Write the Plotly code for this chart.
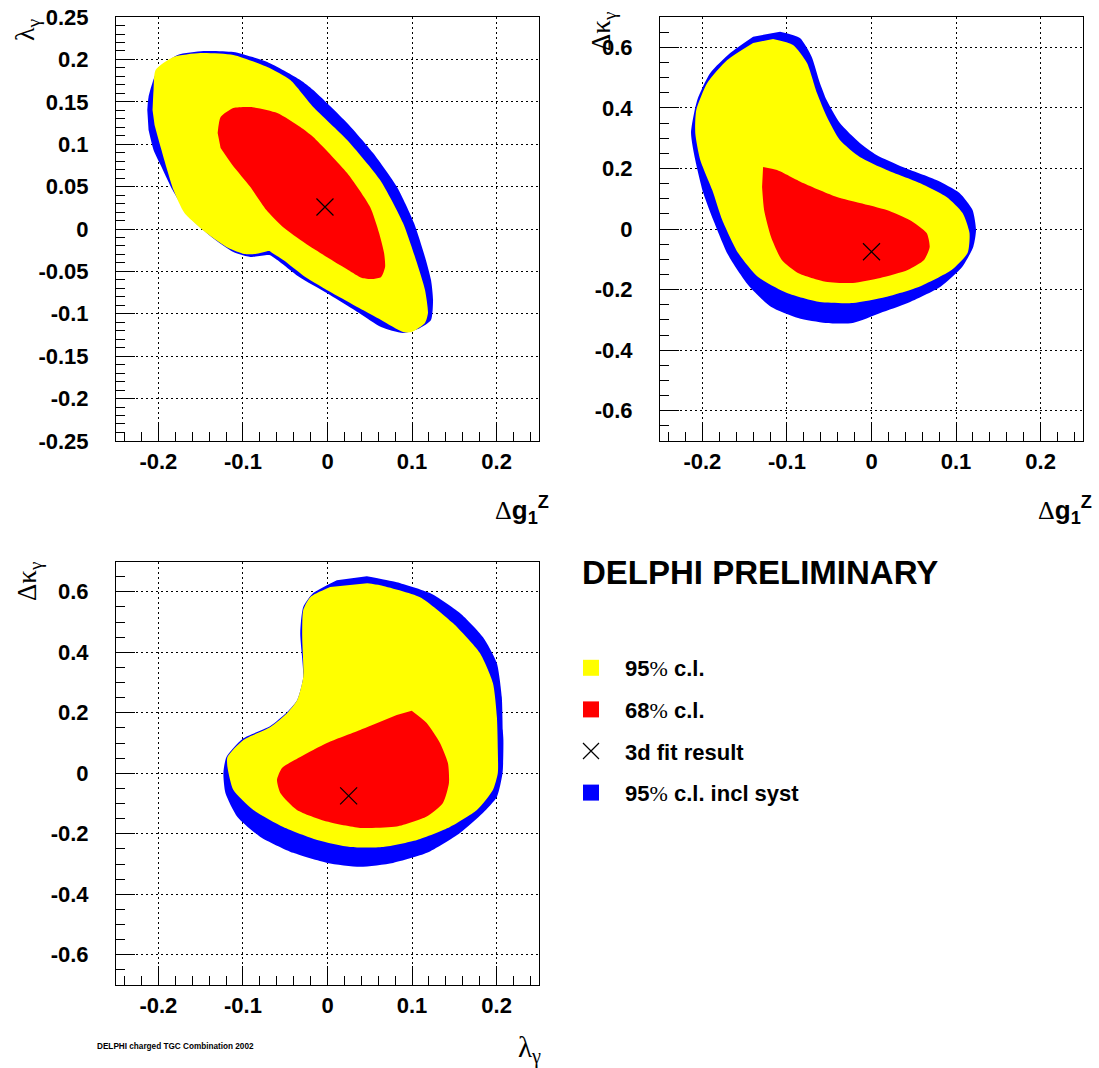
import plotly.graph_objects as go

# ---------------- data ----------------
# Panel 1: lambda_gamma vs Delta g1Z
p1_blue_x = [-0.2131, -0.2116, -0.2009, -0.1773, -0.1467, -0.1113, -0.0712, -0.0322, -0.0169, 0.0232,
             0.0539, 0.0822, 0.1023, 0.1153, 0.1224, 0.1248, 0.1224, 0.1094, 0.0893, 0.0634,
             0.0374, -0.0009, -0.0334, -0.0594, -0.0688, -0.0912, -0.1113, -0.1372, -0.1632, -0.1832,
             -0.1974, -0.2057, -0.2116]
p1_blue_y = [0.1403, 0.1557, 0.1875, 0.2052, 0.2099, 0.2087, 0.1969, 0.1757, 0.1639, 0.1250,
             0.0896, 0.0495, 0.0071, -0.0330, -0.0601, -0.0837, -0.1073, -0.1167, -0.1226, -0.1156,
             -0.0991, -0.0755, -0.0566, -0.0366, -0.0307, -0.0330, -0.0271, -0.0094, 0.0142, 0.0460,
             0.0755, 0.0932, 0.1167]
p1_yel_x = [-0.2069, -0.2057, -0.2033, -0.1821, -0.1502, -0.1113, -0.0712, -0.0440, -0.0169, 0.0232,
            0.0622, 0.0893, 0.1058, 0.1153, 0.1188, 0.1153, 0.0994, 0.0893, 0.0634, 0.0374,
            0.0055, -0.0263, -0.0523, -0.0653, -0.0688, -0.0853, -0.0983, -0.1172, -0.1431, -0.1691,
            -0.1821, -0.1974, -0.2045]
p1_yel_y = [0.1403, 0.1639, 0.1875, 0.2028, 0.2075, 0.2052, 0.1910, 0.1757, 0.1439, 0.1050,
            0.0578, 0.0071, -0.0401, -0.0719, -0.0991, -0.1108, -0.1215, -0.1215, -0.1073, -0.0932,
            -0.0755, -0.0566, -0.0366, -0.0283, -0.0259, -0.0295, -0.0295, -0.0224, -0.0047, 0.0189,
            0.0460, 0.0967, 0.1226]
p1_red_x = [-0.1299, -0.1264, -0.1113, -0.0912, -0.0594, -0.0322, -0.0169, 0.0232, 0.0504, 0.0610,
            0.0669, 0.0681, 0.0634, 0.0539, 0.0409, 0.0244, -0.0009, -0.0268, -0.0527, -0.0723,
            -0.0912, -0.1125, -0.1264]
p1_red_y = [0.1132, 0.1321, 0.1427, 0.1439, 0.1368, 0.1203, 0.1085, 0.0660, 0.0259, -0.0047,
            -0.0283, -0.0448, -0.0566, -0.0590, -0.0578, -0.0483, -0.0330, -0.0165, 0.0024, 0.0224,
            0.0495, 0.0755, 0.0955]
p1_fit = (-0.003, 0.026)

# Panel 2: Delta kappa_gamma vs Delta g1Z
p2_blue_x = [-0.1081, -0.0846, -0.0708, -0.0610, -0.0531, -0.0374, -0.0138, 0.0059, 0.0369, 0.0767,
             0.1041, 0.1195, 0.1236, 0.1204, 0.1074, 0.0816, 0.0428, 0.0104, -0.0221, -0.0542,
             -0.0869, -0.1190, -0.1459, -0.1695, -0.1871, -0.1989, -0.2084, -0.2134, -0.2060, -0.1907,
             -0.1671, -0.1400]
p2_blue_y = [0.6516, 0.6308, 0.5690, 0.4822, 0.4260, 0.3501, 0.2840, 0.2444, 0.2048, 0.1618,
             0.1189, 0.0627, -0.0033, -0.0585, -0.1245, -0.1906, -0.2444, -0.2774, -0.3104, -0.3104,
             -0.2939, -0.2566, -0.1849, -0.0859, 0.0297, 0.1189, 0.2279, 0.3170, 0.4260, 0.5152,
             0.5812, 0.6351]
p2_yel_x = [-0.1164, -0.0928, -0.0763, -0.0645, -0.0527, -0.0374, -0.0138, 0.0180, 0.0570, 0.0888,
            0.1077, 0.1159, 0.1136, 0.0947, 0.0557, 0.0168, -0.0221, -0.0610, -0.0999, -0.1341,
            -0.1577, -0.1765, -0.1883, -0.2025, -0.2084, -0.2072, -0.1942, -0.1706, -0.1400]
p2_yel_y = [0.6275, 0.6077, 0.5482, 0.4491, 0.3699, 0.2939, 0.2378, 0.1948, 0.1519, 0.1057,
            0.0528, -0.0132, -0.0793, -0.1354, -0.1915, -0.2246, -0.2444, -0.2411, -0.2114, -0.1585,
            -0.0793, 0.0297, 0.1288, 0.2279, 0.3170, 0.3930, 0.4822, 0.5581, 0.6143]
p2_red_x = [-0.1282, -0.1117, -0.0810, -0.0409, -0.0138, 0.0180, 0.0451, 0.0652, 0.0688, 0.0621,
            0.0428, 0.0104, -0.0221, -0.0542, -0.0869, -0.1060, -0.1188, -0.1270, -0.1294]
p2_red_y = [0.2048, 0.1948, 0.1519, 0.1057, 0.0859, 0.0627, 0.0297, -0.0132, -0.0594, -0.1024,
            -0.1354, -0.1618, -0.1783, -0.1740, -0.1453, -0.1024, -0.0264, 0.0627, 0.1387]
p2_fit = (0.0, -0.075)

# Panel 3: Delta kappa_gamma vs lambda_gamma
p3_blue_x = [0.0465, 0.0819, 0.1212, 0.1566, 0.1837, 0.2002, 0.2061, 0.2073, 0.2080, 0.2070,
             0.2002, 0.1837, 0.1566, 0.1176, 0.0775, 0.0386, -0.0004, -0.0405, -0.0794, -0.1065,
             -0.1207, -0.1231, -0.1195, -0.1006, -0.0676, -0.0476, -0.0358, -0.0287, -0.0322, -0.0287,
             -0.0169, 0.0111]
p3_blue_y = [0.6516, 0.6318, 0.5955, 0.5294, 0.4501, 0.3643, 0.2520, 0.1430, 0.1100, 0.0010,
             -0.0783, -0.1311, -0.1972, -0.2632, -0.2963, -0.3095, -0.2963, -0.2632, -0.2104, -0.1443,
             -0.0651, 0.0010, 0.0539, 0.1133, 0.1562, 0.2025, 0.2421, 0.3180, 0.4633, 0.5492,
             0.5955, 0.6384]
p3_yel_x = [0.0470, 0.0622, 0.1094, 0.1483, 0.1802, 0.1956, 0.2003, 0.2014, 0.2014, 0.1956,
            0.1767, 0.1448, 0.1059, 0.0658, 0.0268, -0.0122, -0.0523, -0.0877, -0.1113, -0.1183,
            -0.1183, -0.0995, -0.0676, -0.0476, -0.0358, -0.0287, -0.0299, -0.0287, -0.0204, 0.0032]
p3_yel_y = [0.6285, 0.6219, 0.5822, 0.4964, 0.3973, 0.2982, 0.1860, 0.0770, 0.0010, -0.0552,
            -0.1212, -0.1773, -0.2203, -0.2434, -0.2434, -0.2203, -0.1773, -0.1212, -0.0552, 0.0208,
            0.0539, 0.1100, 0.1529, 0.1992, 0.2421, 0.3180, 0.4501, 0.5393, 0.5822, 0.6153]
p3_red_x = [0.0996, 0.1173, 0.1330, 0.1424, 0.1436, 0.1365, 0.1173, 0.0819, 0.0386, -0.0007,
            -0.0361, -0.0558, -0.0597, -0.0538, -0.0322, -0.0007, 0.0386, 0.0819]
p3_red_y = [0.2067, 0.1661, 0.1001, 0.0340, -0.0320, -0.0981, -0.1433, -0.1764, -0.1806, -0.1598,
            -0.1212, -0.0651, -0.0221, 0.0175, 0.0539, 0.1001, 0.1430, 0.1925]
p3_fit = (0.025, -0.075)

# tick values / labels
x_tickvals = [-0.2, -0.1, 0.0, 0.1, 0.2]
x_ticktext = ["-0.2", "-0.1", "0", "0.1", "0.2"]
lam_tickvals = [-0.25, -0.2, -0.15, -0.1, -0.05, 0.0, 0.05, 0.1, 0.15, 0.2, 0.25]
lam_ticktext = ["-0.25", "-0.2", "-0.15", "-0.1", "-0.05", "0", "0.05", "0.1", "0.15", "0.2", "0.25"]
kap_tickvals = [-0.6, -0.4, -0.2, 0.0, 0.2, 0.4, 0.6]
kap_ticktext = ["-0.6", "-0.4", "-0.2", "0", "0.2", "0.4", "0.6"]

legend_labels = ["95% c.l.", "68% c.l.", "3d fit result", "95% c.l. incl syst"]

# ---------------- figure ----------------
YELLOW, RED, BLUE = "#ffff00", "#ff0000", "#0000ff"
FW, FH = 1099, 1068


def px(xp):                  # pixel x -> paper fraction
    return xp / FW


def py(yp):                  # pixel y (from top) -> paper fraction
    return 1 - yp / FH


fig = go.Figure()

panels = [
    ("x", "y", p1_blue_x, p1_blue_y, p1_yel_x, p1_yel_y, p1_red_x, p1_red_y, p1_fit),
    ("x2", "y2", p2_blue_x, p2_blue_y, p2_yel_x, p2_yel_y, p2_red_x, p2_red_y, p2_fit),
    ("x3", "y3", p3_blue_x, p3_blue_y, p3_yel_x, p3_yel_y, p3_red_x, p3_red_y, p3_fit),
]
for xa, ya, bx, by, yx, yy, rx, ry, fit in panels:
    for cx, cy, col in ((bx, by, BLUE), (yx, yy, YELLOW), (rx, ry, RED)):
        fig.add_trace(go.Scatter(x=cx, y=cy, xaxis=xa, yaxis=ya, mode="lines", fill="toself",
                                 fillcolor=col, line=dict(width=0, color=col, shape="spline", smoothing=0.6),
                                 hoverinfo="skip", showlegend=False))
    fig.add_trace(go.Scatter(x=[fit[0]], y=[fit[1]], xaxis=xa, yaxis=ya, mode="markers",
                             marker=dict(symbol="x-thin", size=17, line=dict(width=1.2, color="black")),
                             showlegend=False))

# legend entries
pct = '<span style="font-family:Liberation Serif;font-weight:normal">%</span>'
leg_items = [
    (legend_labels[0].replace("%", pct), dict(symbol="square", size=18, color=YELLOW, line=dict(width=0))),
    (legend_labels[1].replace("%", pct), dict(symbol="square", size=18, color=RED, line=dict(width=0))),
    (legend_labels[2], dict(symbol="x-thin", size=17, line=dict(width=1.2, color="black"))),
    (legend_labels[3].replace("%", pct), dict(symbol="square", size=18, color=BLUE, line=dict(width=0))),
]
for i, (name, mk) in enumerate(leg_items):
    fig.add_trace(go.Scatter(x=[None], y=[None], mode="markers", marker=mk, name=name,
                             legendgroup="g%d" % i, showlegend=True))

tickfont = dict(family="Liberation Sans", size=22, color="black", weight="bold")


def xaxis_cfg(dom, anchor):
    return dict(domain=dom, anchor=anchor, range=[-0.2501, 0.2501], tickvals=x_tickvals, ticktext=x_ticktext,
                showline=True, linecolor="black", linewidth=1, mirror=True, ticks="inside", ticklen=19,
                tickwidth=1, tickcolor="black", showgrid=True, gridcolor="black", gridwidth=1,
                griddash="2px,3px", zeroline=False, tickfont=tickfont, ticklabelstandoff=1,
                automargin=False, ticklabeloverflow="allow",
                minor=dict(ticks="inside", ticklen=9, tickwidth=1, tickcolor="black", dtick=0.02,
                           tick0=0, showgrid=False))


def yaxis_cfg(dom, anchor, rng, tv, tt, mdt):
    return dict(domain=dom, anchor=anchor, range=rng, tickvals=tv, ticktext=tt,
                showline=True, linecolor="black", linewidth=1, mirror=True, ticks="inside", ticklen=19,
                tickwidth=1, tickcolor="black", showgrid=True, gridcolor="black", gridwidth=1,
                griddash="2px,3px", zeroline=False, tickfont=tickfont, ticklabelstandoff=22,
                automargin=False, ticklabeloverflow="allow",
                minor=dict(ticks="inside", ticklen=9, tickwidth=1, tickcolor="black", dtick=mdt,
                           tick0=0, showgrid=False))


fig.update_layout(
    width=FW, height=FH, margin=dict(l=0, r=0, t=0, b=0, autoexpand=False),
    paper_bgcolor="white", plot_bgcolor="white",
    xaxis=xaxis_cfg([px(116), px(539)], "y"),
    yaxis=yaxis_cfg([py(441), py(17)], "x", [-0.2501, 0.2501], lam_tickvals, lam_ticktext, 0.01),
    xaxis2=xaxis_cfg([px(660), px(1083)], "y2"),
    yaxis2=yaxis_cfg([py(441), py(17)], "x2", [-0.7, 0.7], kap_tickvals, kap_ticktext, 0.05),
    xaxis3=xaxis_cfg([px(116), px(539)], "y3"),
    yaxis3=yaxis_cfg([py(985), py(561.5)], "x3", [-0.7, 0.7], kap_tickvals, kap_ticktext, 0.05),
    legend=dict(x=px(557), y=py(647), xanchor="left", yanchor="top", bgcolor="rgba(0,0,0,0)",
                font=dict(family="Liberation Sans", size=22, color="black", weight="bold"),
                itemwidth=58, traceorder="grouped", tracegroupgap=10, itemsizing="trace"),
    showlegend=True,
)

serif = "Liberation Serif"
dg1z = ('<span style="font-family:%s;font-weight:normal">Δ</span><b>g<sub>1</sub><sup>Z</sup></b>' % serif)
lamg = 'λ<sub>γ</sub>'
dkg = 'Δκ<sub>γ</sub>'

ann = [
    dict(text=dg1z, x=px(551), y=py(510), xanchor="right", yanchor="middle",
         font=dict(family="Liberation Sans", size=26, color="black")),
    dict(text=dg1z, x=px(1094), y=py(510), xanchor="right", yanchor="middle",
         font=dict(family="Liberation Sans", size=26, color="black")),
    dict(text=lamg, x=px(543), y=py(1049), xanchor="right", yanchor="middle",
         font=dict(family=serif, size=29, color="black")),
    dict(text=lamg, x=px(27), y=py(30), xanchor="center", yanchor="middle", textangle=-90,
         font=dict(family=serif, size=28, color="black")),
    dict(text=dkg, x=px(603), y=py(32), xanchor="center", yanchor="middle", textangle=-90,
         font=dict(family=serif, size=27, color="black")),
    dict(text=dkg, x=px(29), y=py(582), xanchor="center", yanchor="middle", textangle=-90,
         font=dict(family=serif, size=27, color="black")),
    dict(text="DELPHI PRELIMINARY", x=px(580), y=py(572), xanchor="left", yanchor="middle",
         font=dict(family="Liberation Sans", size=33, color="black", weight="bold")),
    dict(text="DELPHI charged TGC Combination 2002", x=px(95), y=py(1046), xanchor="left",
         yanchor="middle", font=dict(family="Liberation Sans", size=8.2, color="black", weight="bold")),
]
for a in ann:
    a.update(xref="paper", yref="paper", showarrow=False)
fig.update_layout(annotations=ann)

# remove the default 8px page margin so the figure fills the window exactly; no modebar
fig.write_html("out.html", config={"displayModeBar": False},
               post_script="document.body.style.margin='0px';")
